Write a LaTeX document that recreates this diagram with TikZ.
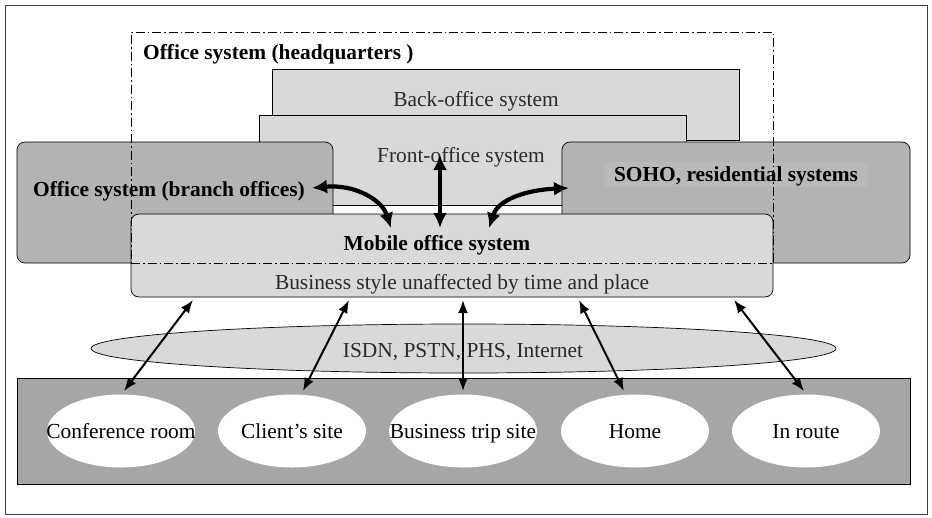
\documentclass[tikz,border=0pt]{standalone}
\usepackage{fontspec}
\setmainfont{Liberation Serif}
\usetikzlibrary{shapes.geometric,arrows.meta}
\definecolor{lightg}{HTML}{D9D9D9}
\definecolor{midg}{HTML}{B3B3B3}
\definecolor{darkg}{HTML}{A6A6A6}
\definecolor{hig}{HTML}{B9B9B9}
\definecolor{txtg}{HTML}{2A2A2A}
\tikzset{
  box/.style={draw=black, line width=0.7pt, inner sep=0pt, outer sep=0pt},
  lbox/.style={box, fill=lightg},
  mbox/.style={box, fill=midg, rounded corners=8pt},
  txt/.style={inner sep=0pt, text height=14pt, text depth=0pt, font=\fontsize{21.4}{23}\selectfont, text=txtg},
  btxt/.style={inner sep=0pt, text height=14pt, text depth=0pt, font=\fontsize{21.4}{23}\selectfont\bfseries, text=black},
  place/.style={ellipse, fill=white, inner sep=0pt, minimum width=148pt, minimum height=73pt},
  bigarr/.style={line width=4.2pt, {Latex[length=15pt,width=14pt]}-{Latex[length=15pt,width=14pt]}},
  thinarr/.style={line width=2pt, {Latex[length=13pt,width=10pt]}-{Latex[length=13pt,width=10pt]}},
}
\begin{document}
\begin{tikzpicture}[x=1pt,y=-1pt]
\useasboundingbox (0,0) rectangle (932,517);
% outer frame
\node[box, draw=black!75, line width=0.8pt, minimum width=922pt, minimum height=509pt] (frame) at (466,259.5) {};
% back and front office
\node[lbox, minimum width=467pt, minimum height=71pt] (back) at (505.5,104.5) {};
\node[txt] (backtxt) at (476,99) {Back-office system};
\node[lbox, minimum width=427pt, minimum height=90pt] (front) at (472.5,160) {};
\node[txt] (fronttxt) at (461,155) {Front-office system};
% branch and soho
\node[mbox, minimum width=316pt, minimum height=121pt] (branch) at (175,202.5) {};
\node[btxt] (branchtxt) at (169,189) {Office system (branch offices)};
\node[mbox, minimum width=348pt, minimum height=121pt] (soho) at (736,202.5) {};
\node[btxt, fill=hig, minimum width=264pt, minimum height=25pt] (sohotxt) at (736,174.5) {SOHO, residential systems};
% mobile
\node[lbox, rounded corners=8pt, minimum width=642pt, minimum height=83pt] (mobile) at (452,255.5) {};
\node[btxt] (mobtxt) at (437,243) {Mobile office system};
\node[txt] (bustxt) at (462,282) {Business style unaffected by time and place};
% headquarters dash-dot box
\node[box, fill=none, dash pattern=on 9pt off 3pt on 1.5pt off 3pt, line width=0.8pt, minimum width=642pt, minimum height=231pt] (hq) at (452,147.5) {};
\node[btxt, anchor=west] (hqtxt) at (143,52) {Office system (headquarters )};
% network
\node[ellipse, draw=black, line width=0.7pt, fill=lightg, inner sep=0pt, minimum width=745pt, minimum height=49pt] (net) at (463.5,348.5) {};
\node[txt] (nettxt) at (463,350) {ISDN, PSTN, PHS, Internet};
% bottom sites
\node[box, fill=darkg, minimum width=893pt, minimum height=106pt] (sites) at (463.5,431) {};
\node[place] (conf) at (121,431) {};
\node[txt, text=black] at (121,431) {Conference room};
\node[place] (client) at (292,431) {};
\node[txt, text=black] at (292,431) {Client’s site};
\node[place] (trip) at (463,431) {};
\node[txt, text=black] at (463,431) {Business trip site};
\node[place] (home) at (635,431) {};
\node[txt, text=black] at (635,431) {Home};
\node[place] (route) at (806,431) {};
\node[txt, text=black] at (806,431) {In route};
% arrow end points
\coordinate (a1) at (312,188);
\coordinate (a2) at (391,228);
\coordinate (b1) at (440,155);
\coordinate (b2) at (440,228);
\coordinate (c1) at (489,228);
\coordinate (c2) at (569,188);
\coordinate (u1) at (193,300);
\coordinate (l1) at (124,391);
\coordinate (u2) at (349,300);
\coordinate (l2) at (303,391);
\coordinate (u3) at (463,300);
\coordinate (l3) at (463,391);
\coordinate (u4) at (579,300);
\coordinate (l4) at (624,391);
\coordinate (u5) at (734,300);
\coordinate (l5) at (804,391);
% thick arrows
\draw[bigarr] (a1) .. controls (355,184) and (382,200) .. (a2);
\draw[bigarr] (b1) -- (b2);
\draw[bigarr] (c1) .. controls (498,200) and (525,190) .. (c2);
% thin arrows
\draw[thinarr] (u1) -- (l1);
\draw[thinarr] (u2) -- (l2);
\draw[thinarr] (u3) -- (l3);
\draw[thinarr] (u4) -- (l4);
\draw[thinarr] (u5) -- (l5);
\end{tikzpicture}
\end{document}
